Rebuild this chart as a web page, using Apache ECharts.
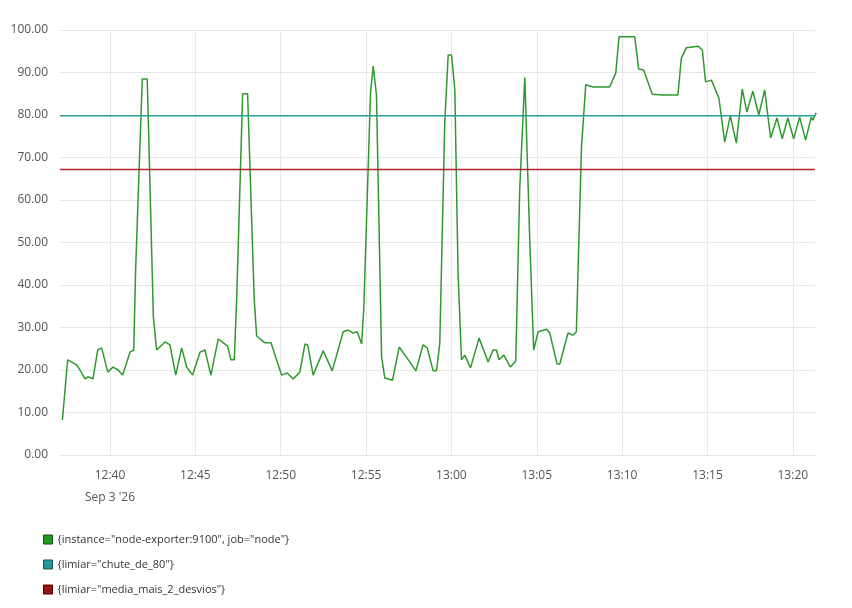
<!DOCTYPE html>
<html><head><meta charset="utf-8">
<script src="https://cdn.jsdelivr.net/npm/echarts@6/dist/echarts.min.js"></script>
<style>html,body{margin:0;padding:0;background:#fff}#c{width:852px;height:608px}</style>
</head><body><div id="c"></div>
<script>
// minutes after 12:00 on Sep 3 2026
const minutes = [37.21,37.52,38.05,38.24,38.54,38.71,39.0,39.28,39.51,39.87,40.18,40.47,40.74,41.17,41.39,41.50,41.89,42.18,42.54,42.73,43.22,43.51,43.85,44.20,44.49,44.84,45.27,45.56,45.91,46.34,46.89,47.08,47.28,47.42,47.77,48.06,48.45,48.59,49.07,49.43,50.05,50.38,50.73,51.12,51.42,51.58,51.90,52.49,53.02,53.66,53.95,54.24,54.48,54.74,54.87,55.26,55.42,55.61,55.91,56.10,56.55,56.94,57.56,57.92,58.34,58.58,58.93,59.13,59.32,59.61,59.81,60.01,60.20,60.39,60.59,60.78,61.12,61.62,62.15,62.44,62.64,62.79,63.07,63.46,63.77,64.00,64.30,64.59,64.82,65.08,65.57,65.76,66.19,66.35,66.83,67.13,67.32,67.62,67.87,68.30,69.27,69.63,69.82,70.74,70.97,71.26,71.77,72.39,73.27,73.47,73.76,74.44,74.70,74.89,75.23,75.67,76.01,76.34,76.69,77.04,77.31,77.66,78.01,78.35,78.70,79.07,79.38,79.71,80.05,80.40,80.75,81.08,81.17,81.37];
const nodeValues = [8.2,22.4,21.2,20,17.9,18.4,17.9,24.7,25.2,19.5,20.7,20,18.8,24.2,24.7,43.5,88.5,88.5,32.5,24.7,26.6,25.9,18.8,25.2,20.7,18.8,24.2,24.7,18.8,27.3,25.6,22.4,22.4,36.5,85,85,36.5,28,26.4,26.4,18.8,19.3,17.9,19.5,26.1,25.9,18.8,24.5,19.8,29,29.4,28.7,29,26.1,34.8,85.2,91.5,84.7,23.1,18.1,17.6,25.4,21.9,19.8,25.9,25.2,19.8,19.8,26.4,78.1,94.1,94.1,85.9,42.8,22.4,23.5,20.5,27.5,21.9,24.7,24.7,22.4,23.5,20.7,22.1,62.4,88.9,50.6,24.7,29,29.6,28.7,21.4,21.4,28.7,28.2,29,72.5,87.1,86.6,86.6,89.9,98.4,98.4,90.8,90.6,84.9,84.7,84.7,93.4,95.8,96.2,95.3,87.8,88.2,84,73.6,79.8,73.4,86.1,80.7,85.6,80,85.9,74.6,79.3,74.4,79.3,74.4,79.5,74.1,79.5,78.8,80.5];
const thresholdChute = 79.8;
const thresholdMedia = 67.2;
const seriesNames = ['{instance="node-exporter:9100", job="node"}','{limiar="chute_de_80"}','{limiar="media_mais_2_desvios"}'];
const yTicks = [0,10,20,30,40,50,60,70,80,90,100];
const xTicks = [40,45,50,55,60,65,70,75,80];
const xMinM = 37.07, xMaxM = 81.3;

const nodeData = minutes.map((m,i)=>[m, nodeValues[i]]);
const flat = v => [[xMinM,v],[xMaxM,v]];
const fmt = m => { const h = 12 + Math.floor(m/60), mi = Math.round(m%60);
  const s = String(h).padStart(2,'0')+':'+String(mi).padStart(2,'0');
  return m===40 ? s+"\nSep 3 '26" : s; };

const chart = echarts.init(document.getElementById('c'));
chart.setOption({
  animation: false,
  grid: {left:60, right:37, top:30, bottom:153},
  xAxis: {
    type:'value', min:xMinM, max:xMaxM,
    axisLine:{lineStyle:{color:'#e6e6e6'}},
    axisTick:{show:false, customValues:xTicks},
    splitLine:{show:true, lineStyle:{color:'#e8e8e8'}},
    axisLabel:{customValues:xTicks, color:'#555', fontFamily:'Open Sans', fontSize:12, margin:10, lineHeight:22, formatter: fmt}
  },
  yAxis: {
    type:'value', min:yTicks[0], max:yTicks[yTicks.length-1], interval:10,
    axisLine:{show:false}, axisTick:{show:false},
    splitLine:{lineStyle:{color:'#e8e8e8'}},
    axisLabel:{color:'#555', fontFamily:'Open Sans', fontSize:12, margin:12, formatter: v=>v.toFixed(2)}
  },
  legend: {
    orient:'vertical', left:38, top:529, itemGap:14, itemWidth:9, itemHeight:9, icon:'rect',
    textStyle:{color:'#333', fontFamily:'Open Sans', fontSize:11},
    data:[
      {name:seriesNames[0], itemStyle:{color:'#229922', borderColor:'#115511', borderWidth:1}},
      {name:seriesNames[1], itemStyle:{color:'#229999', borderColor:'#115555', borderWidth:1}},
      {name:seriesNames[2], itemStyle:{color:'#991111', borderColor:'#550000', borderWidth:1}}
    ]
  },
  series: [
    {name:seriesNames[0], type:'line', data:nodeData, showSymbol:false, lineStyle:{color:'#2e9a2e', width:1.5}, itemStyle:{color:'#2e9a2e'}},
    {name:seriesNames[1], type:'line', data:flat(thresholdChute), showSymbol:false, lineStyle:{color:'#2a9d9d', width:1.5}, itemStyle:{color:'#2a9d9d'}},
    {name:seriesNames[2], type:'line', data:flat(thresholdMedia), showSymbol:false, lineStyle:{color:'#b0232a', width:1.5}, itemStyle:{color:'#b0232a'}}
  ]
});
</script></body></html>
